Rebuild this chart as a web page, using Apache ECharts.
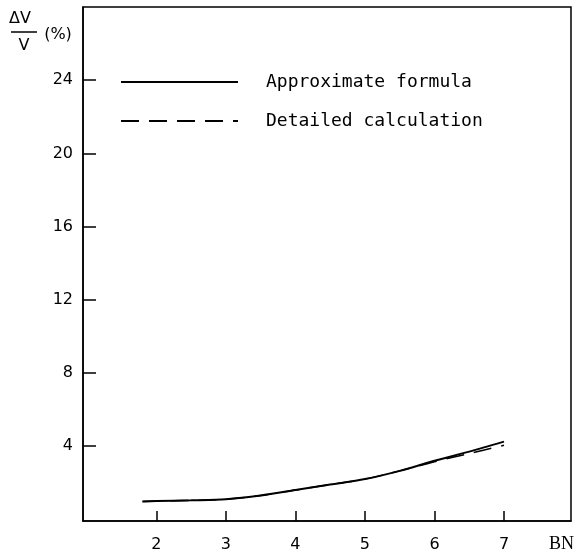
<!DOCTYPE html>
<html>
<head>
<meta charset="utf-8">
<script src="https://cdn.jsdelivr.net/npm/echarts@6/dist/echarts.min.js"></script>
<style>
  html, body { margin: 0; padding: 0; background: #fff; }
  #container { width: 577px; height: 553px; }
</style>
</head>
<body>
<div id="container"></div>
<script>
// BN values and dV/V (%)
var bnValues = [1.8, 2, 2.5, 3, 3.5, 4, 4.5, 5, 5.5, 6, 6.5, 7];
var approxValues = [0.98, 1.0, 1.04, 1.1, 1.3, 1.6, 1.9, 2.2, 2.65, 3.2, 3.7, 4.25];
var detailedValues = [0.98, 1.0, 1.04, 1.1, 1.3, 1.6, 1.9, 2.2, 2.65, 3.15, 3.6, 4.05];
var xTicks = [2, 3, 4, 5, 6, 7];
var yTicks = [4, 8, 12, 16, 20, 24];
var seriesNames = ['Approximate formula', 'Detailed calculation'];

function pairs(xs, ys) {
    var out = [];
    for (var i = 0; i < xs.length; i++) {
        out.push([xs[i], ys[i]]);
    }
    return out;
}

var dom = document.getElementById('container');
var myChart = echarts.init(dom, null, { renderer: 'canvas' });

var option = {
    backgroundColor: '#fff',
    animation: false,
    grid: {
        left: 83,
        right: 4,
        top: 7,
        bottom: 31,
        show: true,
        borderColor: '#000',
        borderWidth: 1.5
    },
    legend: {
        orient: 'vertical',
        left: 120,
        top: 73,
        padding: 0,
        itemWidth: 117,
        itemHeight: 18,
        itemGap: 21,
        data: seriesNames,
        itemStyle: { opacity: 0 },
        textStyle: {
            fontFamily: 'DejaVu Sans Mono',
            fontSize: 18,
            color: '#000',
            padding: [0, 0, 0, 23]
        }
    },
    xAxis: {
        type: 'value',
        min: 0.944,
        max: 7.964,
        name: 'BN',
        nameLocation: 'end',
        nameGap: -22,
        nameTextStyle: {
            fontFamily: 'Liberation Serif',
            fontSize: 18,
            color: '#000',
            verticalAlign: 'top',
            padding: [14, 0, 0, 0]
        },
        axisLine: { show: true, onZero: false, lineStyle: { color: '#000', width: 1.5 } },
        axisTick: {
            show: true,
            inside: true,
            length: 10,
            customValues: xTicks,
            lineStyle: { color: '#000', width: 1.5 }
        },
        axisLabel: {
            customValues: xTicks,
            margin: 16,
            fontFamily: 'DejaVu Sans',
            fontSize: 16,
            color: '#000'
        },
        splitLine: { show: false }
    },
    yAxis: {
        type: 'value',
        min: -0.09,
        max: 28,
        axisLine: { show: true, onZero: false, lineStyle: { color: '#000', width: 1.5 } },
        axisTick: {
            show: true,
            inside: true,
            length: 13,
            customValues: yTicks,
            lineStyle: { color: '#000', width: 1.5 }
        },
        axisLabel: {
            customValues: yTicks,
            margin: 10,
            fontFamily: 'DejaVu Sans',
            fontSize: 16,
            color: '#000'
        },
        splitLine: { show: false }
    },
    graphic: [
        { type: 'text', x: 20, y: 19, style: { text: '\u0394V', font: '16px DejaVu Sans', fill: '#000', align: 'center', verticalAlign: 'middle' } },
        { type: 'line', shape: { x1: 11, y1: 32, x2: 37, y2: 32 }, style: { stroke: '#000', lineWidth: 1.5 } },
        { type: 'text', x: 24, y: 46, style: { text: 'V', font: '16px DejaVu Sans', fill: '#000', align: 'center', verticalAlign: 'middle' } },
        { type: 'text', x: 58, y: 35, style: { text: '(%)', font: '16px DejaVu Sans', fill: '#000', align: 'center', verticalAlign: 'middle' } }
    ],
    series: [
        {
            name: seriesNames[0],
            type: 'line',
            data: pairs(bnValues, approxValues),
            smooth: 0.3,
            symbol: 'none',
            lineStyle: { color: '#000', width: 2, type: 'solid' },
            itemStyle: { color: '#000' }
        },
        {
            name: seriesNames[1],
            type: 'line',
            data: pairs(bnValues, detailedValues),
            smooth: 0.3,
            symbol: 'none',
            lineStyle: { color: '#000', width: 1.5, type: [18, 10] },
            itemStyle: { color: '#000' }
        }
    ]
};

myChart.setOption(option, true);
</script>
</body>
</html>
